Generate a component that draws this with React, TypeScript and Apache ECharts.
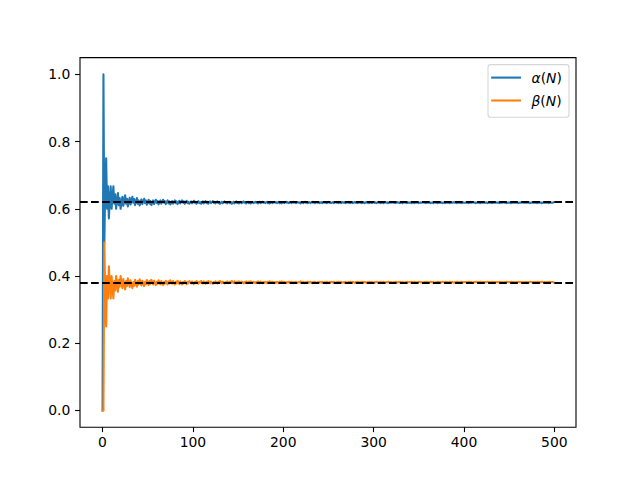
import React, { useEffect, useRef } from "react";
import * as echarts from "echarts";

// Series names and legend display (math-italic symbols)
const seriesNames = ["α(N)", "β(N)"];
const legendRichText = ["{i|α}{u|(}{i|N}{u|)}", "{i|β}{u|(}{i|N}{u|)}"];
const seriesColors = ["#1f77b4", "#ff7f0e"];

// Reference levels (1/φ and 1/φ²)
const referenceLevels = [0.618034, 0.381966];

// Tick values
const xTicks = [0, 100, 200, 300, 400, 500];
const yTicks = [0.0, 0.2, 0.4, 0.6, 0.8, 1.0];

// α(N), N = 0..88
const alphaHead = [
  0, 1.0, 0.5, 0.667, 0.75, 0.6, 0.667, 0.571, 0.625, 0.667, 0.6,
  0.636, 0.667, 0.615, 0.643, 0.6, 0.625, 0.647, 0.611, 0.632, 0.6,
  0.619, 0.636, 0.609, 0.625, 0.64, 0.615, 0.63, 0.607, 0.621, 0.633,
  0.613, 0.625, 0.636, 0.618, 0.629, 0.611, 0.622, 0.632, 0.615, 0.625,
  0.61, 0.619, 0.628, 0.614, 0.622, 0.63, 0.617, 0.625, 0.612, 0.62,
  0.627, 0.615, 0.623, 0.611, 0.618, 0.625, 0.614, 0.621, 0.627, 0.617,
  0.623, 0.613, 0.619, 0.625, 0.615, 0.621, 0.627, 0.618, 0.623, 0.614,
  0.62, 0.625, 0.616, 0.622, 0.613, 0.618, 0.623, 0.615, 0.62, 0.625,
  0.617, 0.622, 0.614, 0.619, 0.624, 0.616, 0.621, 0.625,
];
// α(N), N = 89..177
const alphaTail1 = [
  0.618, 0.622, 0.615, 0.62, 0.624, 0.617, 0.621, 0.615, 0.619, 0.622,
  0.616, 0.62, 0.624, 0.618, 0.621, 0.615, 0.619, 0.623, 0.617, 0.62,
  0.615, 0.618, 0.622, 0.616, 0.619, 0.623, 0.617, 0.621, 0.615, 0.619,
  0.622, 0.617, 0.62, 0.623, 0.618, 0.621, 0.616, 0.619, 0.622, 0.617,
  0.62, 0.615, 0.618, 0.621, 0.617, 0.619, 0.622, 0.618, 0.62, 0.616,
  0.619, 0.621, 0.617, 0.62, 0.615, 0.618, 0.621, 0.616, 0.619, 0.622,
  0.617, 0.62, 0.616, 0.618, 0.621, 0.617, 0.619, 0.622, 0.618, 0.62,
  0.616, 0.619, 0.621, 0.617, 0.62, 0.616, 0.618, 0.62, 0.617, 0.619,
  0.621, 0.618, 0.62, 0.616, 0.618, 0.621, 0.617, 0.619, 0.621,
];
// α(N), N = 178..266
const alphaTail2 = [
  0.618, 0.62, 0.617, 0.619, 0.621, 0.617, 0.62, 0.616, 0.618, 0.62,
  0.617, 0.619, 0.621, 0.618, 0.62, 0.617, 0.619, 0.621, 0.617, 0.619,
  0.616, 0.618, 0.62, 0.617, 0.619, 0.621, 0.618, 0.62, 0.617, 0.618,
  0.62, 0.617, 0.619, 0.621, 0.618, 0.62, 0.617, 0.619, 0.62, 0.618,
  0.619, 0.616, 0.618, 0.62, 0.617, 0.619, 0.621, 0.618, 0.619, 0.617,
  0.618, 0.62, 0.617, 0.619, 0.621, 0.618, 0.62, 0.617, 0.619, 0.62,
  0.618, 0.619, 0.617, 0.618, 0.62, 0.617, 0.619, 0.62, 0.618, 0.619,
  0.617, 0.618, 0.62, 0.618, 0.619, 0.617, 0.618, 0.62, 0.617, 0.619,
  0.62, 0.618, 0.619, 0.617, 0.618, 0.62, 0.617, 0.619, 0.62,
];
// α(N), N = 267..355
const alphaTail3 = [
  0.618, 0.619, 0.617, 0.619, 0.62, 0.618, 0.619, 0.617, 0.618, 0.62,
  0.617, 0.619, 0.62, 0.618, 0.619, 0.617, 0.618, 0.62, 0.618, 0.619,
  0.617, 0.618, 0.619, 0.617, 0.619, 0.62, 0.618, 0.619, 0.617, 0.618,
  0.62, 0.617, 0.619, 0.62, 0.618, 0.619, 0.617, 0.618, 0.62, 0.618,
  0.619, 0.617, 0.618, 0.619, 0.617, 0.619, 0.62, 0.618, 0.619, 0.617,
  0.618, 0.619, 0.618, 0.619, 0.62, 0.618, 0.619, 0.617, 0.618, 0.62,
  0.618, 0.619, 0.617, 0.618, 0.619, 0.617, 0.619, 0.62, 0.618, 0.619,
  0.617, 0.618, 0.619, 0.618, 0.619, 0.617, 0.618, 0.619, 0.617, 0.618,
  0.62, 0.618, 0.619, 0.617, 0.618, 0.619, 0.618, 0.619, 0.62,
];
// α(N), N = 356..444
const alphaTail4 = [
  0.618, 0.619, 0.617, 0.618, 0.619, 0.618, 0.619, 0.617, 0.618, 0.619,
  0.617, 0.619, 0.62, 0.618, 0.619, 0.617, 0.618, 0.619, 0.618, 0.619,
  0.617, 0.618, 0.619, 0.617, 0.618, 0.619, 0.618, 0.619, 0.617, 0.618,
  0.619, 0.618, 0.619, 0.62, 0.618, 0.619, 0.617, 0.618, 0.619, 0.618,
  0.619, 0.617, 0.618, 0.619, 0.618, 0.618, 0.619, 0.618, 0.619, 0.617,
  0.618, 0.619, 0.618, 0.619, 0.62, 0.618, 0.619, 0.617, 0.618, 0.619,
  0.618, 0.619, 0.617, 0.618, 0.619, 0.618, 0.618, 0.619, 0.618, 0.619,
  0.617, 0.618, 0.619, 0.618, 0.619, 0.617, 0.618, 0.619, 0.618, 0.618,
  0.619, 0.618, 0.619, 0.617, 0.618, 0.619, 0.618, 0.619, 0.619,
];
// α(N), N = 445..499
const alphaTail5 = [
  0.618, 0.619, 0.617, 0.618, 0.619, 0.618, 0.619, 0.617, 0.618, 0.619,
  0.618, 0.618, 0.619, 0.618, 0.619, 0.617, 0.618, 0.619, 0.618, 0.619,
  0.619, 0.618, 0.619, 0.618, 0.618, 0.619, 0.618, 0.619, 0.617, 0.618,
  0.619, 0.618, 0.618, 0.619, 0.618, 0.619, 0.617, 0.618, 0.619, 0.618,
  0.619, 0.617, 0.618, 0.619, 0.618, 0.618, 0.619, 0.618, 0.619, 0.617,
  0.618, 0.619, 0.618, 0.618, 0.619,
];

// β(N), N = 0..88
const betaHead = [
  0, 0.0, 0.5, 0.333, 0.25, 0.4, 0.333, 0.429, 0.375, 0.333, 0.4,
  0.364, 0.333, 0.385, 0.357, 0.4, 0.375, 0.353, 0.389, 0.368, 0.4,
  0.381, 0.364, 0.391, 0.375, 0.36, 0.385, 0.37, 0.393, 0.379, 0.367,
  0.387, 0.375, 0.364, 0.382, 0.371, 0.389, 0.378, 0.368, 0.385, 0.375,
  0.39, 0.381, 0.372, 0.386, 0.378, 0.37, 0.383, 0.375, 0.388, 0.38,
  0.373, 0.385, 0.377, 0.389, 0.382, 0.375, 0.386, 0.379, 0.373, 0.383,
  0.377, 0.387, 0.381, 0.375, 0.385, 0.379, 0.373, 0.382, 0.377, 0.386,
  0.38, 0.375, 0.384, 0.378, 0.387, 0.382, 0.377, 0.385, 0.38, 0.375,
  0.383, 0.378, 0.386, 0.381, 0.376, 0.384, 0.379, 0.375,
];
// β(N), N = 89..177
const betaTail1 = [
  0.382, 0.378, 0.385, 0.38, 0.376, 0.383, 0.379, 0.385, 0.381, 0.378,
  0.384, 0.38, 0.376, 0.382, 0.379, 0.385, 0.381, 0.377, 0.383, 0.38,
  0.385, 0.382, 0.378, 0.384, 0.381, 0.377, 0.383, 0.379, 0.385, 0.381,
  0.378, 0.383, 0.38, 0.377, 0.382, 0.379, 0.384, 0.381, 0.378, 0.383,
  0.38, 0.385, 0.382, 0.379, 0.383, 0.381, 0.378, 0.382, 0.38, 0.384,
  0.381, 0.379, 0.383, 0.38, 0.385, 0.382, 0.379, 0.384, 0.381, 0.378,
  0.383, 0.38, 0.384, 0.382, 0.379, 0.383, 0.381, 0.378, 0.382, 0.38,
  0.384, 0.381, 0.379, 0.383, 0.38, 0.384, 0.382, 0.38, 0.383, 0.381,
  0.379, 0.382, 0.38, 0.384, 0.382, 0.379, 0.383, 0.381, 0.379,
];
// β(N), N = 178..266
const betaTail2 = [
  0.382, 0.38, 0.383, 0.381, 0.379, 0.383, 0.38, 0.384, 0.382, 0.38,
  0.383, 0.381, 0.379, 0.382, 0.38, 0.383, 0.381, 0.379, 0.383, 0.381,
  0.384, 0.382, 0.38, 0.383, 0.381, 0.379, 0.382, 0.38, 0.383, 0.382,
  0.38, 0.383, 0.381, 0.379, 0.382, 0.38, 0.383, 0.381, 0.38, 0.382,
  0.381, 0.384, 0.382, 0.38, 0.383, 0.381, 0.379, 0.382, 0.381, 0.383,
  0.382, 0.38, 0.383, 0.381, 0.379, 0.382, 0.38, 0.383, 0.381, 0.38,
  0.382, 0.381, 0.383, 0.382, 0.38, 0.383, 0.381, 0.38, 0.382, 0.381,
  0.383, 0.382, 0.38, 0.382, 0.381, 0.383, 0.382, 0.38, 0.383, 0.381,
  0.38, 0.382, 0.381, 0.383, 0.382, 0.38, 0.383, 0.381, 0.38,
];
// β(N), N = 267..355
const betaTail3 = [
  0.382, 0.381, 0.383, 0.381, 0.38, 0.382, 0.381, 0.383, 0.382, 0.38,
  0.383, 0.381, 0.38, 0.382, 0.381, 0.383, 0.382, 0.38, 0.382, 0.381,
  0.383, 0.382, 0.381, 0.383, 0.381, 0.38, 0.382, 0.381, 0.383, 0.382,
  0.38, 0.383, 0.381, 0.38, 0.382, 0.381, 0.383, 0.382, 0.38, 0.382,
  0.381, 0.383, 0.382, 0.381, 0.383, 0.381, 0.38, 0.382, 0.381, 0.383,
  0.382, 0.381, 0.382, 0.381, 0.38, 0.382, 0.381, 0.383, 0.382, 0.38,
  0.382, 0.381, 0.383, 0.382, 0.381, 0.383, 0.381, 0.38, 0.382, 0.381,
  0.383, 0.382, 0.381, 0.382, 0.381, 0.383, 0.382, 0.381, 0.383, 0.382,
  0.38, 0.382, 0.381, 0.383, 0.382, 0.381, 0.382, 0.381, 0.38,
];
// β(N), N = 356..444
const betaTail4 = [
  0.382, 0.381, 0.383, 0.382, 0.381, 0.382, 0.381, 0.383, 0.382, 0.381,
  0.383, 0.381, 0.38, 0.382, 0.381, 0.383, 0.382, 0.381, 0.382, 0.381,
  0.383, 0.382, 0.381, 0.383, 0.382, 0.381, 0.382, 0.381, 0.383, 0.382,
  0.381, 0.382, 0.381, 0.38, 0.382, 0.381, 0.383, 0.382, 0.381, 0.382,
  0.381, 0.383, 0.382, 0.381, 0.382, 0.382, 0.381, 0.382, 0.381, 0.383,
  0.382, 0.381, 0.382, 0.381, 0.38, 0.382, 0.381, 0.383, 0.382, 0.381,
  0.382, 0.381, 0.383, 0.382, 0.381, 0.382, 0.382, 0.381, 0.382, 0.381,
  0.383, 0.382, 0.381, 0.382, 0.381, 0.383, 0.382, 0.381, 0.382, 0.382,
  0.381, 0.382, 0.381, 0.383, 0.382, 0.381, 0.382, 0.381, 0.381,
];
// β(N), N = 445..499
const betaTail5 = [
  0.382, 0.381, 0.383, 0.382, 0.381, 0.382, 0.381, 0.383, 0.382, 0.381,
  0.382, 0.382, 0.381, 0.382, 0.381, 0.383, 0.382, 0.381, 0.382, 0.381,
  0.381, 0.382, 0.381, 0.382, 0.382, 0.381, 0.382, 0.381, 0.383, 0.382,
  0.381, 0.382, 0.382, 0.381, 0.382, 0.381, 0.383, 0.382, 0.381, 0.382,
  0.381, 0.383, 0.382, 0.381, 0.382, 0.382, 0.381, 0.382, 0.381, 0.383,
  0.382, 0.381, 0.382, 0.382, 0.381,
];

const alphaValues = [...alphaHead, ...alphaTail1, ...alphaTail2, ...alphaTail3, ...alphaTail4, ...alphaTail5];
const betaValues = [...betaHead, ...betaTail1, ...betaTail2, ...betaTail3, ...betaTail4, ...betaTail5];

const FONT = "DejaVu Sans";
const FS = 13.9;
const LW = 2.08;

export default function App() {
  const ref = useRef<HTMLDivElement>(null);

  useEffect(() => {
    if (!ref.current) return;
    const chart = echarts.init(ref.current, null, { renderer: "svg" });

    const toPairs = (vals: number[]) => vals.map((v, n) => [n, v]);
    const allValues = [alphaValues, betaValues];

    const legendTop = 64.6;
    const legendLeft = 488;
    const rowY = [77.6, 100.5];

    const option: any = {
      animation: false,
      backgroundColor: "#ffffff",
      grid: {
        show: true,
        left: 80,
        top: 57.6,
        right: 64,
        bottom: 52.8,
        borderColor: "#000",
        borderWidth: 1.1,
        backgroundColor: "transparent",
        containLabel: false,
      },
      xAxis: {
        type: "value",
        min: -24.95,
        max: 523.95,
        axisLine: { show: false, onZero: false },
        splitLine: { show: false },
        axisTick: {
          show: true,
          inside: false,
          customValues: xTicks,
          length: 4.9,
          lineStyle: { color: "#000", width: 1.1 },
        },
        axisLabel: {
          customValues: xTicks,
          margin: 8,
          color: "#000",
          fontFamily: FONT,
          fontSize: FS,
          formatter: (v: number) => String(Math.round(v)),
        },
      },
      yAxis: {
        type: "value",
        min: -0.05,
        max: 1.05,
        axisLine: { show: false, onZero: false },
        splitLine: { show: false },
        axisTick: {
          show: true,
          inside: false,
          customValues: yTicks,
          length: 4.9,
          lineStyle: { color: "#000", width: 1.1 },
        },
        axisLabel: {
          customValues: yTicks,
          margin: 9.7,
          color: "#000",
          fontFamily: FONT,
          fontSize: FS,
          formatter: (v: number) => v.toFixed(1),
        },
      },
      series: [
        ...seriesNames.map((name, i) => ({
          name,
          type: "line",
          data: toPairs(allValues[i]),
          symbol: "none",
          showSymbol: false,
          silent: true,
          z: 2 + i,
          lineStyle: { color: seriesColors[i], width: LW, cap: "square", join: "round" },
        })),
        {
          name: "reference",
          type: "line",
          data: [],
          symbol: "none",
          silent: true,
          z: 10,
          markLine: {
            silent: true,
            symbol: ["none", "none"],
            label: { show: false },
            lineStyle: { color: "#000", width: LW, type: [7.7, 3.33], cap: "butt" },
            emphasis: { disabled: true },
            data: referenceLevels.map((v) => ({ yAxis: v })),
          },
        },
      ],
      graphic: [
        {
          type: "rect",
          z: 100,
          shape: { x: legendLeft, y: legendTop, width: 81, height: 52.6, r: 2.8 },
          style: { fill: "rgba(255,255,255,0.8)", stroke: "rgba(204,204,204,0.8)", lineWidth: 1.1 },
        },
        ...seriesNames.map((_, i) => ({
          type: "line",
          z: 101,
          shape: { x1: 492.2, y1: rowY[i], x2: 520, y2: rowY[i] },
          style: { stroke: seriesColors[i], lineWidth: LW, lineCap: "square" },
        })),
        ...seriesNames.map((_, i) => ({
          type: "text",
          z: 101,
          x: 531.5,
          y: rowY[i] + 0.8,
          style: {
            text: legendRichText[i],
            fill: "#000",
            fontFamily: FONT,
            fontSize: FS,
            verticalAlign: "middle",
            align: "left",
            rich: {
              i: { fontStyle: "italic", fontFamily: FONT, fontSize: FS, fill: "#000" },
              u: { fontFamily: FONT, fontSize: FS, fill: "#000" },
            },
          },
        })),
      ],
    };

    chart.setOption(option);
    return () => chart.dispose();
  }, []);

  return (
    <div
      ref={ref}
      style={{ position: "absolute", left: 0, top: 0, width: 640, height: 480, background: "#fff" }}
    />
  );
}
